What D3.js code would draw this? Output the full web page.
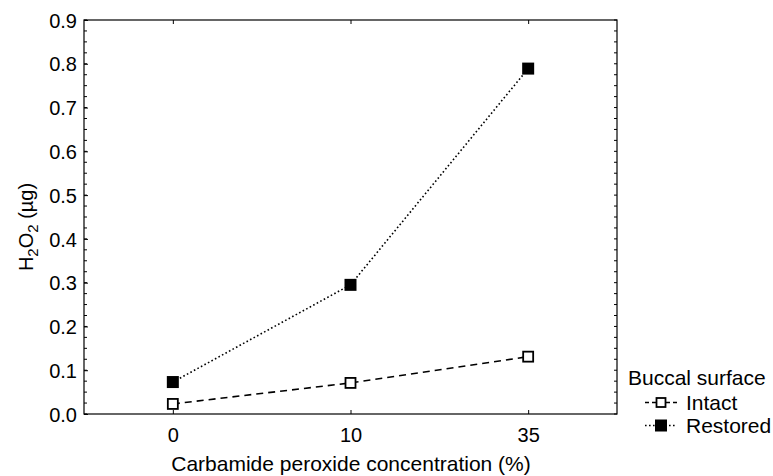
<!DOCTYPE html>
<html><head><meta charset="utf-8">
<script src="https://cdn.jsdelivr.net/npm/d3@7"></script>
<style>body{margin:0;background:#fff}svg{display:block}text{font-family:"Liberation Sans",Arial,sans-serif;fill:#000}</style>
</head><body><svg id="c" width="773" height="476"></svg>
<script>
const categories = ["0", "10", "35"];
const intact = [0.023, 0.071, 0.131];
const restored = [0.073, 0.295, 0.789];
const yTicks = [0.0, 0.1, 0.2, 0.3, 0.4, 0.5, 0.6, 0.7, 0.8, 0.9];
const seriesNames = ["Intact", "Restored"];

const svg = d3.select("#c");
const L = 84, R = 617, T = 20, B = 414;
const x = d3.scalePoint().domain(categories).range([L, R]).padding(0.5);
const y = d3.scaleLinear().domain([0, 0.9]).range([B, T]);

// frame
svg.append("rect").attr("x", L).attr("y", T).attr("width", R - L).attr("height", B - T)
  .attr("fill", "none").attr("stroke", "#000").attr("stroke-width", 1.2);

// minor ticks
const minor = d3.range(0, 0.9001, 0.025);
svg.append("g").selectAll("line").data(minor).join("line")
  .attr("x1", L).attr("x2", d => L + 3).attr("y1", d => y(d)).attr("y2", d => y(d))
  .attr("stroke", "#000").attr("stroke-width", 1);
svg.append("g").selectAll("line").data(minor).join("line")
  .attr("x1", R).attr("x2", R - 3).attr("y1", d => y(d)).attr("y2", d => y(d))
  .attr("stroke", "#000").attr("stroke-width", 1);

// y axis
const gy = svg.append("g").attr("transform", `translate(${L},0)`)
  .call(d3.axisLeft(y).tickValues(yTicks).tickFormat(d3.format(".1f")).tickSize(-4).tickPadding(7));
gy.select(".domain").remove();
gy.selectAll("text").style("font-size", "20px").attr("dy", "0.36em");

// x axis
const gx = svg.append("g").attr("transform", `translate(0,${B})`)
  .call(d3.axisBottom(x).tickSize(-4).tickPadding(14));
gx.select(".domain").remove();
gx.selectAll("text").style("font-size", "20px").attr("dy", "0.71em");
const gt = svg.append("g").attr("transform", `translate(0,${T})`)
  .call(d3.axisTop(x).tickSize(-4).tickFormat(""));
gt.select(".domain").remove();

// lines
const line = d3.line().x((d, i) => x(categories[i])).y(d => y(d));
svg.append("path").datum(intact).attr("d", line).attr("fill", "none")
  .attr("stroke", "#000").attr("stroke-width", 1.6).attr("stroke-dasharray", "7,5");
svg.append("path").datum(restored).attr("d", line).attr("fill", "none")
  .attr("stroke", "#000").attr("stroke-width", 1.6).attr("stroke-dasharray", "1.6,2.4");

// markers
const s1 = 10;
svg.append("g").selectAll("rect").data(intact).join("rect")
  .attr("x", (d, i) => x(categories[i]) - s1 / 2).attr("y", d => y(d) - s1 / 2)
  .attr("width", s1).attr("height", s1).attr("fill", "#fff").attr("stroke", "#000").attr("stroke-width", 1.8);
const s2 = 12;
svg.append("g").selectAll("rect").data(restored).join("rect")
  .attr("x", (d, i) => x(categories[i]) - s2 / 2).attr("y", d => y(d) - s2 / 2)
  .attr("width", s2).attr("height", s2).attr("fill", "#000");

// axis titles
svg.append("text").attr("x", 351).attr("y", 471).attr("text-anchor", "middle")
  .style("font-size", "21px").text("Carbamide peroxide concentration (%)");
const yt = svg.append("text").attr("transform", "translate(33,227) rotate(-90)").attr("text-anchor", "middle")
  .style("font-size", "20px");
yt.append("tspan").text("H");
yt.append("tspan").attr("baseline-shift", "-30%").style("font-size", "15px").text("2");
yt.append("tspan").text("O");
yt.append("tspan").attr("baseline-shift", "-30%").style("font-size", "15px").text("2");
yt.append("tspan").text(" (µg)");

// legend
svg.append("text").attr("x", 628).attr("y", 385).style("font-size", "21px").text("Buccal surface");
const lg = svg.append("g");
const ly = [402.5, 425.5];
const cx = 661;
lg.append("line").attr("x1", 645).attr("x2", 677).attr("y1", ly[0]).attr("y2", ly[0])
  .attr("stroke", "#000").attr("stroke-width", 1.6).attr("stroke-dasharray", "4,3");
lg.append("rect").attr("x", cx - 4.5).attr("y", ly[0] - 4.5).attr("width", 9).attr("height", 9)
  .attr("fill", "#fff").attr("stroke", "#000").attr("stroke-width", 1.8);
lg.append("line").attr("x1", 645).attr("x2", 677).attr("y1", ly[1]).attr("y2", ly[1])
  .attr("stroke", "#000").attr("stroke-width", 1.6).attr("stroke-dasharray", "1.6,2.4");
lg.append("rect").attr("x", cx - 6).attr("y", ly[1] - 6).attr("width", 12).attr("height", 12).attr("fill", "#000");
lg.selectAll("text.s").data(seriesNames).join("text").attr("class", "s")
  .attr("x", 686).attr("y", (d, i) => ly[i]).attr("dy", "0.35em").style("font-size", "21px").text(d => d);
</script></body></html>
